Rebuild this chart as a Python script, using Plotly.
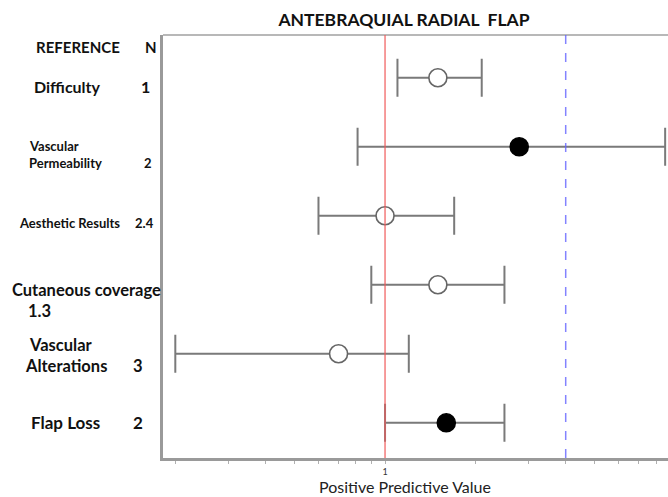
import plotly.graph_objects as go

# ---- data ----
categories = ["Difficulty", "Vascular Permeability", "Aesthetic Results",
              "Cutaneous coverage", "Vascular Alterations", "Flap Loss"]
n_values = ["1", "2", "2.4", "1.3", "3", "2"]
ppv = [1.50, 2.80, 1.00, 1.50, 0.70, 1.60]
ci_low = [1.10, 0.81, 0.60, 0.90, 0.20, 1.00]
ci_high = [2.10, 8.58, 1.70, 2.50, 1.20, 2.50]
filled = [False, True, False, False, False, True]
row_pos = [6, 5, 4, 3, 2, 1]
tick_vals = [0.2, 0.3, 0.4, 0.5, 0.6, 0.7, 0.8, 0.9, 1, 2, 3, 4, 5, 6, 7, 8]
tick_text = ["", "", "", "", "", "", "", "", "1", "", "", "", "", "", "", ""]
ref_line = 1
dashed_line = 4

W, H = 668, 497
L, R, T, B = 163, 0, 35, 39
PW = W - L - R

def px(xpix):
    return (xpix - L) / PW

def py(ypix):
    return (H - B - ypix) / (H - T - B)

fig = go.Figure()
fig.add_trace(go.Scatter(
    x=ppv, y=row_pos, mode="markers",
    marker=dict(
        size=18, symbol="circle",
        color=["black" if f else "white" for f in filled],
        line=dict(color=["black" if f else "#666666" for f in filled], width=1.6),
    ),
    error_x=dict(
        type="data", symmetric=False,
        array=[h - p for h, p in zip(ci_high, ppv)],
        arrayminus=[p - l for p, l in zip(ppv, ci_low)],
        color="#7a7a7a", thickness=2, width=19,
    ),
    showlegend=False, hoverinfo="skip",
))

font_b = "Lato, Carlito, Calibri, sans-serif"
ann = []
def txt(s, x, y, size, anchor="left", bold=True, color="#111"):
    ann.append(dict(text=("<b>%s</b>" % s) if bold else s, xref="paper", yref="paper",
                    x=px(x), y=py(y), xanchor=anchor, yanchor="middle",
                    showarrow=False, font=dict(family=font_b, size=size, color=color)))

txt("REFERENCE", 34, 47, 15)
txt("N", 143, 47, 15)
txt(categories[0], 32, 87, 16)
txt(n_values[0], 139, 87, 16)
txt("Vascular", 27, 146, 13)
txt("Permeability", 27, 163, 13)
txt(n_values[1], 142, 163, 13)
txt(categories[2], 17, 223, 13)
txt(n_values[2], 133, 223, 13)
txt(categories[3], 10, 290, 16.5)
txt(n_values[3], 26, 311, 16.5)
txt("Vascular", 27, 345, 16.5)
txt("Alterations", 23, 366, 16.5)
txt(n_values[4], 131, 366, 16.5)
txt(categories[5], 29, 422, 17)
txt(n_values[5], 131, 422, 17)
txt("Positive Predictive Value", 405, 486, 16, anchor="center", bold=False, color="#222")

fig.update_layout(
    width=W, height=H,
    margin=dict(l=L, r=R, t=T, b=B),
    paper_bgcolor="white", plot_bgcolor="white",
    title=dict(text="<b>ANTEBRAQUIAL RADIAL  FLAP</b>", xref="container", x=404 / W,
               xanchor="center", yref="container", y=1 - 20 / H, yanchor="middle",
               font=dict(family=font_b, size=17.5, color="#111")),
    xaxis=dict(type="log", range=[-0.74, 0.943], showgrid=False, zeroline=False,
               showline=True, linecolor="#9a9a9a", linewidth=3,
               ticks="outside", ticklen=3, tickcolor="#b0b0b0", tickwidth=1,
               tickvals=tick_vals, ticktext=tick_text,
               tickfont=dict(family=font_b, size=9, color="#333")),
    yaxis=dict(range=[0.49, 6.62], showgrid=False, zeroline=False,
               showline=True, linecolor="#9a9a9a", linewidth=3,
               showticklabels=False, ticks=""),
    annotations=ann,
    shapes=[
        dict(type="line", xref="paper", yref="paper", x0=0, x1=1, y0=1, y1=1,
             line=dict(color="#a0a0a0", width=1.5)),
        dict(type="line", xref="x", yref="paper", x0=ref_line, x1=ref_line, y0=0, y1=1,
             line=dict(color="rgba(240,90,90,0.8)", width=1.5), layer="above"),
        dict(type="line", xref="x", yref="paper", x0=dashed_line, x1=dashed_line, y0=0, y1=1,
             line=dict(color="rgba(100,100,255,0.8)", width=1.5, dash="dash"), layer="above"),
    ],
)

fig.write_html("out.html", config={"displayModeBar": False},
               post_script="document.body.style.margin='0';")
